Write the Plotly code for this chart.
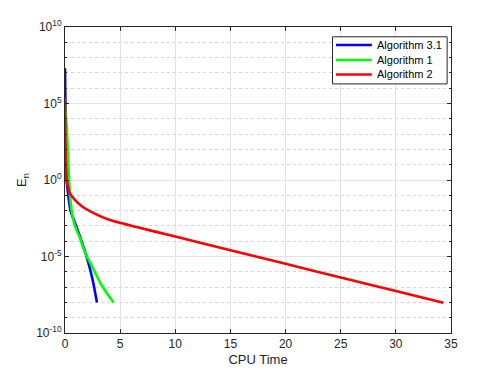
import numpy as np
import plotly.graph_objects as go

# Values (x = CPU time, y given as log10(E_n))
alg31_x = [0, 0.05, 0.1, 0.15, 0.3, 0.5, 0.8, 1.06, 1.5, 2.0, 2.5, 2.9]
alg31_log = [7.3, 4.0, 1.5, 0.0, -1.0, -2.0, -2.6, -3.1, -4.0, -5.1, -6.5, -8.0]

alg1_x = [0, 0.15, 0.25, 0.35, 0.45, 0.6, 0.9, 1.36, 1.8, 2.27, 2.7, 3.18, 3.8, 4.4]
alg1_log = [5.0, 3.5, 2.0, 0.3, -1.0, -2.0, -3.0, -3.8, -4.7, -5.4, -6.0, -6.7, -7.4, -8.0]

alg2_x = [0, 0.03, 0.08, 0.15, 0.3, 0.45, 0.9, 1.5, 2.7, 4.0, 6.4, 10, 15, 20, 25, 30, 34.3]
alg2_log = [5.4, 3.0, 1.0, 0.0, -0.5, -0.87, -1.3, -1.7, -2.2, -2.6, -3.06, -3.7, -4.59, -5.48, -6.37, -7.26, -8.02]

names = ["Algorithm 3.1", "Algorithm 1", "Algorithm 2"]
colors = ["#0000ff", "#00ff00", "#ff0000"]

x_ticks = [0, 5, 10, 15, 20, 25, 30, 35]
y_major = [1e-10, 1e-5, 1e0, 1e5, 1e10]
y_major_text = ["10<sup>-10</sup>", "10<sup>-5</sup>", "10<sup>0</sup>", "10<sup>5</sup>", "10<sup>10</sup>"]
y_minor = [10.0 ** k for k in range(-10, 11) if k % 5 != 0]

fig = go.Figure()
for xs, ls, nm, c in [(alg31_x, alg31_log, names[0], colors[0]),
                      (alg1_x, alg1_log, names[1], colors[1]),
                      (alg2_x, alg2_log, names[2], colors[2])]:
    fig.add_trace(go.Scatter(x=xs, y=10.0 ** np.array(ls), mode="lines", name=nm,
                             showlegend=False,
                             line=dict(color=c, width=2.6, shape="spline", smoothing=0.6)))

axcol = "#262626"
fam = "Liberation Sans, Arial, sans-serif"

# Compact MATLAB-style legend box (paper coordinates)
box = dict(x0=0.693, x1=0.99, y0=0.814, y1=0.968)
entry_y = [0.941, 0.892, 0.845]
shapes = [dict(type="rect", xref="paper", yref="paper", **box,
               line=dict(color=axcol, width=1), fillcolor="white", layer="above")]
annots = []
for nm, c, yy in zip(names, colors, entry_y):
    shapes.append(dict(type="line", xref="paper", yref="paper", x0=0.702, x1=0.795,
                       y0=yy, y1=yy, line=dict(color=c, width=2.6), layer="above"))
    annots.append(dict(text=nm, xref="paper", yref="paper", x=0.804, y=yy,
                       xanchor="left", yanchor="middle", showarrow=False,
                       font=dict(family=fam, size=11, color="black")))

# page body has an 8px margin, so the figure is sized/offset to compensate
fig.update_layout(
    width=490, height=366,
    margin=dict(l=57, r=47, t=19, b=41),
    paper_bgcolor="white", plot_bgcolor="white",
    font=dict(family=fam, size=12, color=axcol),
    showlegend=False,
    shapes=shapes, annotations=annots,
)
fig.update_xaxes(
    range=[0, 35], tickvals=x_ticks, ticks="inside", ticklen=4, tickcolor=axcol,
    showline=True, linecolor=axcol, linewidth=1, mirror="ticks", automargin=False,
    showgrid=True, gridcolor="#e3e3e3", gridwidth=1, zeroline=False,
    tickfont=dict(size=12),
    title=dict(text="CPU Time", standoff=4, font=dict(size=13)),
)
fig.update_yaxes(
    type="log", range=[-10, 10], tickvals=y_major, ticktext=y_major_text,
    ticks="inside", ticklen=4, tickcolor=axcol, automargin=False,
    showline=True, linecolor=axcol, linewidth=1, mirror="ticks",
    showgrid=True, gridcolor="#e3e3e3", gridwidth=1, zeroline=False,
    tickfont=dict(size=12),
    minor=dict(tickvals=y_minor, ticks="inside", ticklen=2, tickcolor=axcol,
               showgrid=True, gridcolor="#d6d6d6", griddash="dot", gridwidth=1),
    title=dict(text="E<sub>n</sub>", standoff=6, font=dict(size=13)),
)

fig.write_html("out.html")
